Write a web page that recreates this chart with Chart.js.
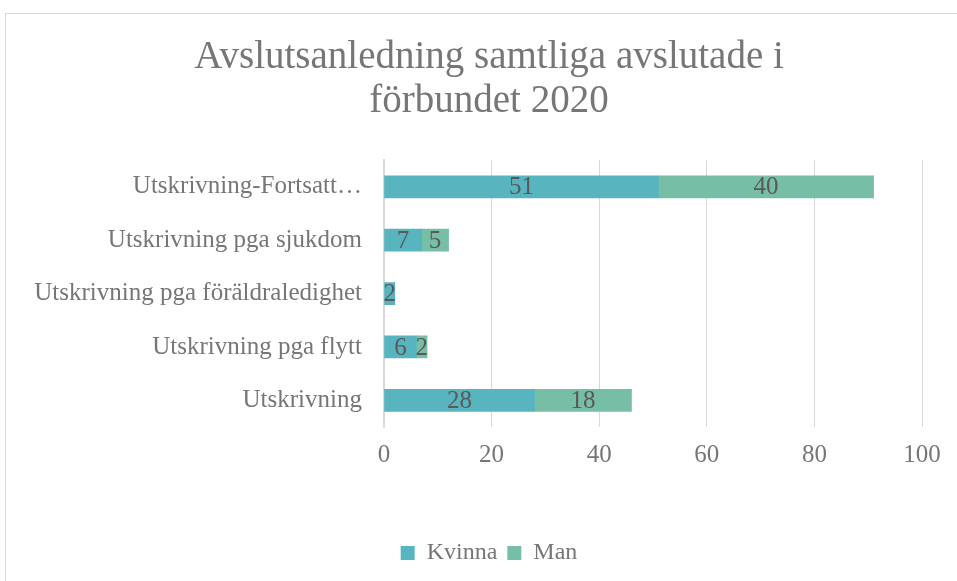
<!DOCTYPE html>
<html>
<head>
<meta charset="utf-8">
<script src="https://cdn.jsdelivr.net/npm/chart.js@4"></script>
<style>
  html, body { margin: 0; padding: 0; background: #fff; overflow: hidden; }
  #wrap { position: absolute; left: 5px; top: 13px; width: 966px; height: 580px;
          border: 1px solid #d9d9d9; box-sizing: border-box; }
</style>
</head>
<body>
<div id="wrap"><canvas id="bar-chart"></canvas></div>
<script>
const categories = [
  "Utskrivning-Fortsatt…",
  "Utskrivning pga sjukdom",
  "Utskrivning pga föräldraledighet",
  "Utskrivning pga flytt",
  "Utskrivning"
];
const kvinna = [51, 7, 2, 6, 28];
const man = [40, 5, 0, 2, 18];
const xTicks = [0, 20, 40, 60, 80, 100];

const fontFamily = "'Liberation Serif', serif";
const gray = "#767676";

// draws the value in the middle of each bar segment
const barLabels = {
  id: "barLabels",
  afterDatasetsDraw(chart) {
    const ctx = chart.ctx;
    ctx.save();
    ctx.font = "25px " + fontFamily;
    ctx.fillStyle = "#595959";
    ctx.textAlign = "center";
    ctx.textBaseline = "middle";
    chart.data.datasets.forEach((ds, i) => {
      chart.getDatasetMeta(i).data.forEach((bar, j) => {
        const v = ds.data[j];
        if (!v) return;
        const x = (bar.x + bar.base) / 2;
        ctx.fillText(String(v), x, bar.y + 1);
      });
    });
    ctx.restore();
  }
};

// title and legend sit centred on the whole frame, not on the padded box
const shiftBlocks = {
  id: "shiftBlocks",
  afterLayout(chart) {
    const d = 25;
    [chart.titleBlock, chart.legend].forEach(b => {
      if (!b) return;
      b.left += d;
      b.right += d;
    });
  }
};

const barChart = document.getElementById("bar-chart");

new Chart(barChart, {
  type: "bar",
  data: {
    labels: categories,
    datasets: [
      { label: "Kvinna", data: kvinna, backgroundColor: "#58b5bf", barThickness: 22 },
      { label: "Man", data: man, backgroundColor: "#76bea5", barThickness: 22 }
    ]
  },
  options: {
    indexAxis: "y",
    responsive: true,
    maintainAspectRatio: false,
    animation: false,
    layout: { padding: { left: 0, right: 48, top: 0, bottom: 17 } },
    scales: {
      x: {
        stacked: true,
        min: 0,
        max: 100,
        afterBuildTicks(scale) {
          scale.ticks = xTicks.map(v => ({ value: v }));
        },
        afterFit(scale) { scale.height = 104; },
        grid: { color: "#d9d9d9", lineWidth: 1, drawTicks: false },
        border: { display: false },
        ticks: { color: gray, font: { family: fontFamily, size: 25 }, padding: 13 }
      },
      y: {
        stacked: true,
        afterFit(scale) { scale.width = 378; },
        grid: { display: false, drawTicks: false },
        border: { display: true, color: "#d9d9d9", width: 2 },
        ticks: { color: gray, font: { family: fontFamily, size: 25 }, padding: 22 }
      }
    },
    plugins: {
      title: {
        display: true,
        text: ["Avslutsanledning samtliga avslutade i", "förbundet 2020"],
        color: gray,
        font: { family: fontFamily, size: 39, weight: "normal", lineHeight: 1.13 },
        padding: { top: 22, bottom: 36 }
      },
      legend: {
        position: "bottom",
        labels: {
          color: gray,
          font: { family: fontFamily, size: 24 },
          boxWidth: 14,
          boxHeight: 14,
          padding: 10
        }
      },
      tooltip: { enabled: false }
    }
  },
  plugins: [barLabels, shiftBlocks]
});
</script>
</body>
</html>
